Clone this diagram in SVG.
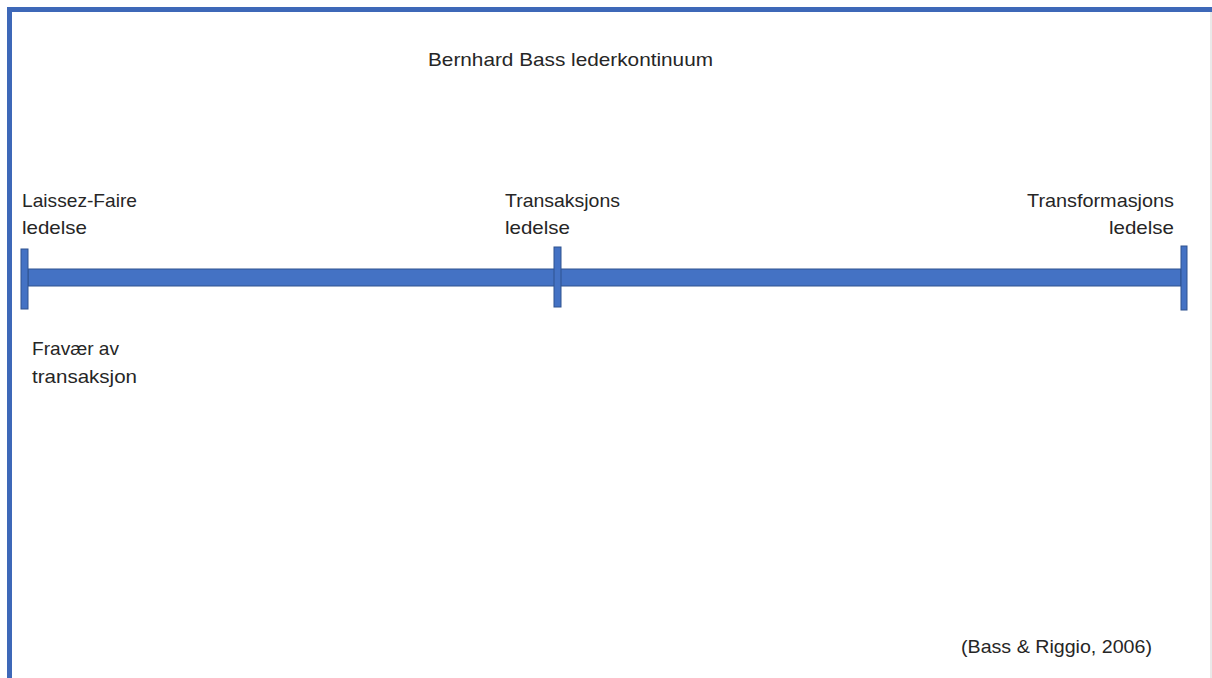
<svg xmlns="http://www.w3.org/2000/svg" width="1212" height="678" viewBox="0 0 1212 678">
  <style>
    .frame { stroke: #3E68B8; stroke-width: 5; fill: none; }
    .edge { stroke: #E2E2E2; stroke-width: 1.5; fill: none; }
    .bar { fill: #4472C4; stroke: #2F528F; stroke-width: 1; }
    .label { font-family: "Liberation Sans", "Noto Sans", Arial, sans-serif; font-size: 18.5px; fill: #262626; }
    .end { text-anchor: end; }
  </style>

  <rect width="1212" height="678" fill="#FFFFFF"/>

  <!-- slide frame -->
  <g id="frame">
    <line class="edge" x1="1211" y1="12" x2="1211" y2="678"/>
    <line class="frame" x1="7" y1="9.5" x2="1212" y2="9.5"/>
    <line class="frame" x1="9.5" y1="7" x2="9.5" y2="678"/>
  </g>

  <!-- title -->
  <g id="title">
    <text class="label" x="428" y="66" textLength="285" lengthAdjust="spacingAndGlyphs">Bernhard Bass lederkontinuum</text>
  </g>

  <!-- continuum axis -->
  <g id="connectors">
    <rect class="bar" x="28" y="269" width="1153" height="17"/>
  </g>

  <g id="laissez-faire">
    <rect class="bar" x="21" y="249" width="7" height="60"/>
    <text class="label" x="22" y="207" textLength="115" lengthAdjust="spacingAndGlyphs">Laissez-Faire</text>
    <text class="label" x="22" y="234" textLength="65" lengthAdjust="spacingAndGlyphs">ledelse</text>
    <text class="label" x="32" y="355" textLength="87" lengthAdjust="spacingAndGlyphs">Fravær av</text>
    <text class="label" x="32" y="383" textLength="105" lengthAdjust="spacingAndGlyphs">transaksjon</text>
  </g>

  <g id="transaksjons">
    <rect class="bar" x="554" y="247" width="7" height="60"/>
    <text class="label" x="505" y="207" textLength="115" lengthAdjust="spacingAndGlyphs">Transaksjons</text>
    <text class="label" x="505" y="234" textLength="65" lengthAdjust="spacingAndGlyphs">ledelse</text>
  </g>

  <g id="transformasjons">
    <rect class="bar" x="1181" y="246" width="6" height="64"/>
    <text class="label" x="1027" y="207" textLength="147" lengthAdjust="spacingAndGlyphs">Transformasjons</text>
    <text class="label" x="1109" y="234" textLength="65" lengthAdjust="spacingAndGlyphs">ledelse</text>
  </g>

  <!-- source -->
  <g id="source">
    <text class="label" x="961" y="653" textLength="191" lengthAdjust="spacingAndGlyphs">(Bass &amp; Riggio, 2006)</text>
  </g>
</svg>
